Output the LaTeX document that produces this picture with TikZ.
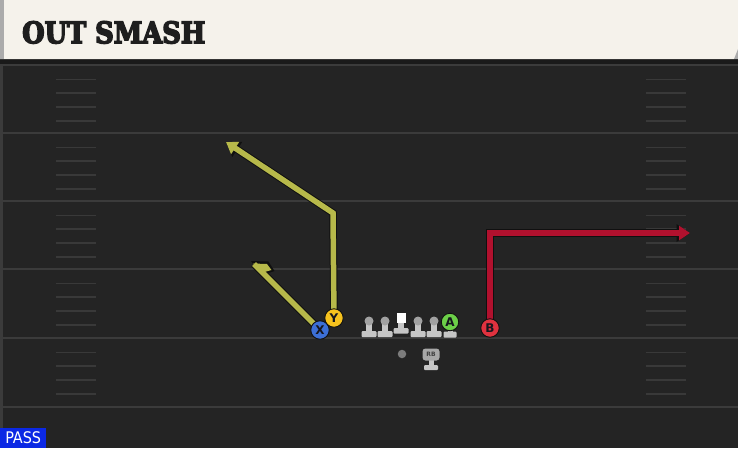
\documentclass[tikz,border=0pt]{standalone}
\usepackage{fontspec}
\setsansfont{DejaVu Sans}
\newfontfamily\titlefont{DejaVu Serif Condensed}
\newfontfamily\passfont{DejaVu Sans Condensed}
\usetikzlibrary{arrows.meta}
\definecolor{fieldbg}{HTML}{242424}
\definecolor{yardline}{HTML}{3B3B3B}
\definecolor{hashcol}{HTML}{393939}
\definecolor{headerbg}{HTML}{F5F2EB}
\definecolor{headerstrip}{HTML}{ABABAB}
\definecolor{shadowband}{HTML}{1A1A1A}
\definecolor{titleink}{HTML}{1E1E1E}
\definecolor{yroutecol}{HTML}{B7B94A}
\definecolor{rroutecol}{HTML}{B1112E}
\definecolor{outlinecol}{HTML}{101010}
\definecolor{xblue}{HTML}{3C6FD6}
\definecolor{yyellow}{HTML}{F6C21E}
\definecolor{agreen}{HTML}{6CCF48}
\definecolor{bred}{HTML}{E0323F}
\definecolor{lmhead}{HTML}{A2A2A2}
\definecolor{lmbody}{HTML}{C6C6C6}
\definecolor{qbgray}{HTML}{7C7C7C}
\definecolor{rbgray}{HTML}{A8A8A8}
\definecolor{passblue}{HTML}{0B28E4}
\definecolor{lettercol}{HTML}{16161E}
\pgfdeclarelayer{field}
\pgfdeclarelayer{routes}
\pgfsetlayers{field,routes,main}
\tikzset{
  player/.style={circle, draw=outlinecol, line width=0.9pt, minimum size=18.5pt, inner sep=0pt,
    font=\sffamily\bfseries\fontsize{12}{12}\selectfont, text=lettercol},
  lmhead/.style={circle, fill=lmhead, minimum size=9pt, inner sep=0pt},
  centerbox/.style={rectangle, fill=white, minimum width=9pt, minimum height=9.5pt, inner sep=0pt},
  routeout/.style={draw=outlinecol, line width=7.5pt, line join=miter},
  yroute/.style={draw=yroutecol, line width=5.5pt, line join=miter},
  rroute/.style={draw=rroutecol, line width=5.5pt, line join=miter},
  yardln/.style={draw=yardline, line width=2.2pt},
  hashln/.style={draw=hashcol, line width=1.8pt},
}
\begin{document}
\begin{tikzpicture}[x=1pt,y=-1pt]
\useasboundingbox (0,0) rectangle (738,448);
\begin{pgfonlayer}{field}
  % field
  \fill[fieldbg] (0,59) rectangle (738,448);
  \fill[shadowband] (0,59) rectangle (738,64);
  \fill[yardline] (0,64) rectangle (2.5,448);
  \draw[yardln] (0,65) -- (738,65);
  \foreach \yl in {133,201,269,338,407}{\draw[yardln] (0,\yl) -- (738,\yl);}
  \foreach \yl in {65,133,201,269,338}{
    \foreach \k in {1,2,3,4}{
      \draw[hashln] (56,{\yl+0.8+13.7*\k}) -- (96,{\yl+0.8+13.7*\k});
      \draw[hashln] (646,{\yl+0.8+13.7*\k}) -- (686,{\yl+0.8+13.7*\k});
    }
  }
  % header
  \fill[headerbg] (0,0) -- (738,0) -- (738,49) -- (734,59) -- (0,59) -- cycle;
  \fill[headerstrip] (0,0) rectangle (4,59);
  \fill[headerstrip] (738,49) -- (734,59) -- (738,59) -- cycle;
\end{pgfonlayer}

% title
\node[anchor=north west, inner sep=0pt, text=titleink] (title) at (22,21)
  {\resizebox{183pt}{22pt}{\titlefont\bfseries\special{pdf:literal 2 Tr 0.5 w}OUT SMASH\special{pdf:literal 0 Tr}}};

% players
\node[player, fill=xblue] (X) at (320,330) {X};
\node[player, fill=yyellow] (Y) at (334,318) {Y};
\node[player, fill=agreen, minimum size=17.5pt] (A) at (450,322) {A};
\node[player, fill=bred] (B) at (490,328) {B};
\node[lmhead] (LT) at (369,321) {};
\node[lmhead] (LG) at (385,321) {};
\node[centerbox] (C) at (401,318) {};
\node[lmhead] (RG) at (418,321) {};
\node[lmhead] (RT) at (434,321) {};
\node[circle, fill=qbgray, minimum size=8.5pt, inner sep=0pt] (QB) at (402,354) {};
\node[rectangle, rounded corners=3pt, fill=rbgray, minimum width=17pt, minimum height=12pt, inner sep=0pt,
  font=\sffamily\bfseries\fontsize{6}{6}\selectfont, text=black!75] (RB) at (431,354.5) {RB};

% pass label
\node[anchor=south west, fill=passblue, minimum width=46pt, minimum height=20pt, inner sep=0pt,
  text=white, font=\passfont\fontsize{16}{16}\selectfont] (pass) at (0,448) {PASS};

% route waypoints
\coordinate (ycorner) at (333,213);
\coordinate (ytip) at (226,142);
\coordinate (xend) at (254,264);
\coordinate (bcorner) at (490,233);
\coordinate (btip) at (690,233);

\begin{pgfonlayer}{routes}
  % lineman stems and bases
  \foreach \n in {LT,LG,RG,RT}{
    \fill[lmbody] ([xshift=-3pt]\n.center) rectangle ([xshift=3pt,yshift=-10pt]\n.center);
    \fill[lmbody, rounded corners=1pt] ([xshift=-7.5pt,yshift=-10pt]\n.center) rectangle ([xshift=7.5pt,yshift=-16pt]\n.center);
  }
  \fill[lmbody] ([xshift=-3pt]C.center) rectangle ([xshift=3pt,yshift=-10pt]C.center);
  \fill[lmbody, rounded corners=1pt] ([xshift=-7.5pt,yshift=-10pt]C.center) rectangle ([xshift=7.5pt,yshift=-15.5pt]C.center);
  \fill[lmbody] ([xshift=-2.5pt]A.center) rectangle ([xshift=2.5pt,yshift=-10pt]A.center);
  \fill[lmbody, rounded corners=1pt] ([xshift=-6.5pt,yshift=-9.5pt]A.center) rectangle ([xshift=6.5pt,yshift=-15.5pt]A.center);
  \fill[lmbody] ([xshift=-2.5pt]RB.center) rectangle ([xshift=2.5pt,yshift=-11pt]RB.center);
  \fill[lmbody, rounded corners=1pt] ([xshift=-7pt,yshift=-10.5pt]RB.center) rectangle ([xshift=7pt,yshift=-15.5pt]RB.center);

  % Y route
  \draw[routeout, -{Triangle[width=17pt,length=13.5pt]}] (Y.center) -- (ycorner) -- (ytip);
  \draw[yroute, -{Triangle[width=14pt,length=11pt]}] (Y.center) -- (ycorner) -- (ytip);
  % X route with hook
  \fill[outlinecol] (251,261) -- (268.5,261.5) -- (274.5,271) -- (261,275.5) -- cycle;
  \draw[routeout] (X.center) -- (xend);
  \fill[yroutecol] (253,263.5) -- (267,264) -- (271.5,270) -- (261,273) -- cycle;
  \draw[yroute] (X.center) -- (xend);
  % B route
  \draw[routeout, -{Triangle[width=17pt,length=13.5pt]}] (B.center) -- (bcorner) -- (btip);
  \draw[rroute, -{Triangle[width=14pt,length=11pt]}] (B.center) -- (bcorner) -- (btip);
\end{pgfonlayer}
\end{tikzpicture}
\end{document}
